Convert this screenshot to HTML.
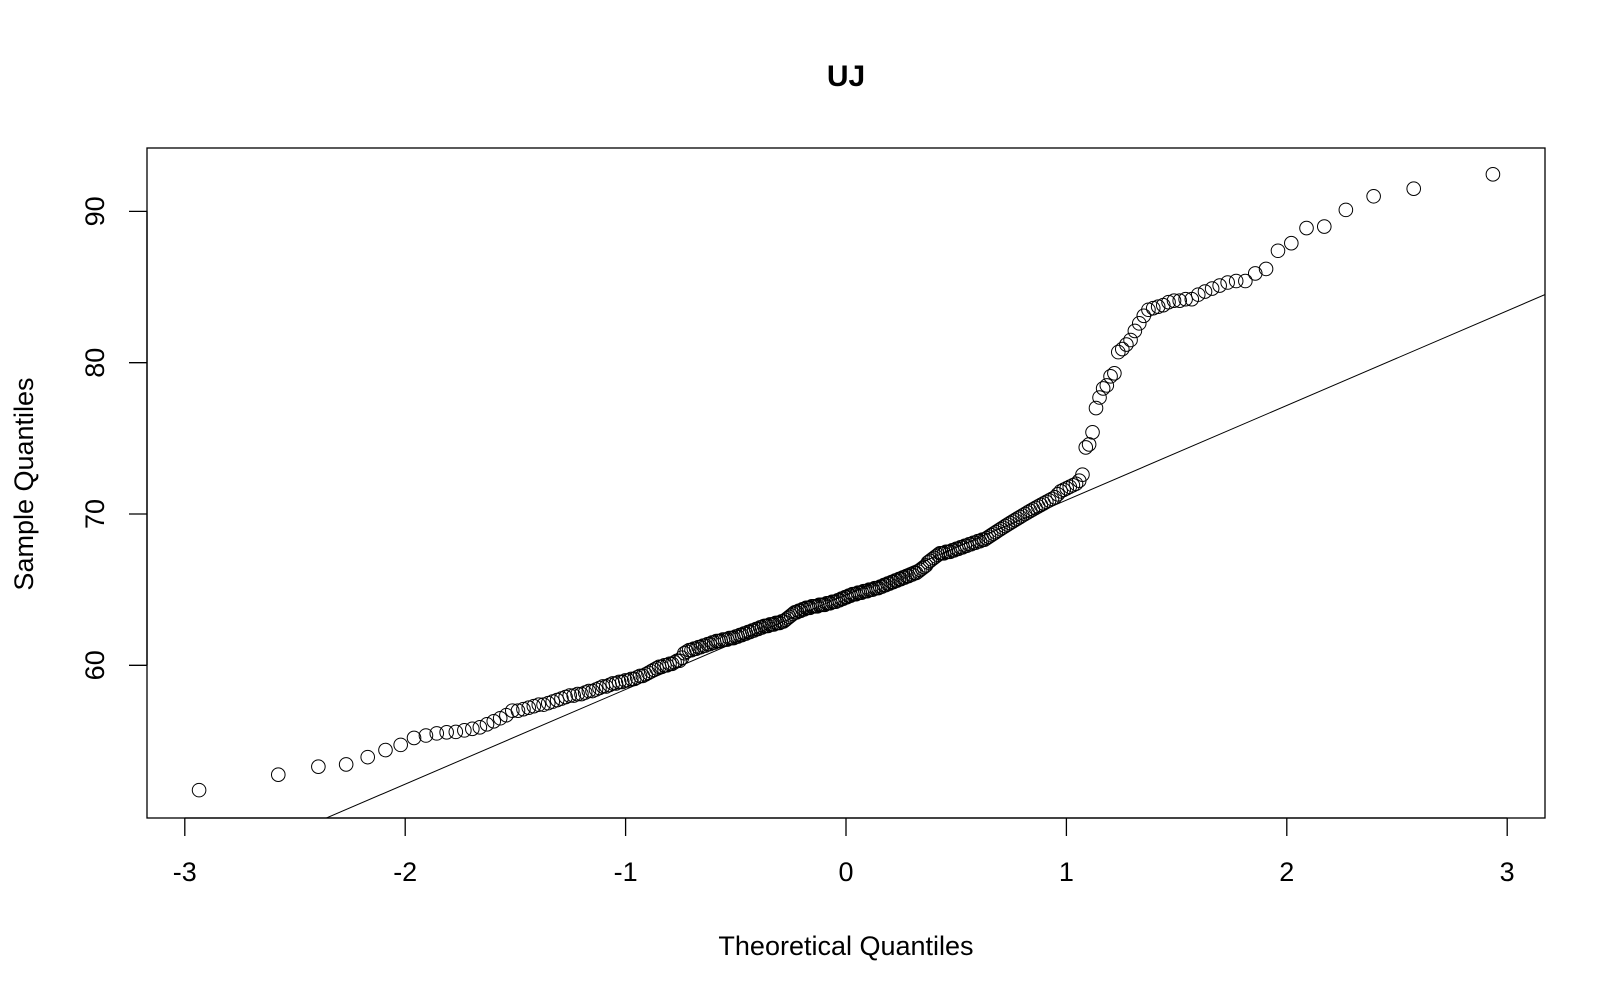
<!DOCTYPE html>
<html><head><meta charset="utf-8"><style>
html,body{margin:0;padding:0;background:#fff;}
svg{display:block;font-family:"Liberation Sans",Arial,sans-serif;}
</style></head><body>
<svg id="chart" width="1620" height="1001" viewBox="0 0 1620 1001" xmlns="http://www.w3.org/2000/svg">
<rect width="1620" height="1001" fill="#fff"/>
<text x="846" y="86" font-size="30" font-weight="bold" text-anchor="middle">UJ</text>
<rect x="147" y="148" width="1398" height="670" fill="none" stroke="#000" stroke-width="1.3"/>
<g id="xaxis"></g>
<g id="yaxis"></g>
<text x="846" y="955" font-size="27" text-anchor="middle">Theoretical Quantiles</text>
<text transform="translate(33,484) rotate(-90)" font-size="27" text-anchor="middle">Sample Quantiles</text>
<g id="marks"></g>
</svg>
<script>
const xTicks = [-3,-2,-1,0,1,2,3];
const yTicks = [60,70,80,90];
const lineParams = [64.66, 6.257]; // intercept, slope
const sample = [
51.75,52.77,53.3,53.45,53.93,54.4,54.74,55.2,55.36,55.5,55.57,55.6,
55.7,55.8,55.9,56.1,56.3,56.5,56.7,57.0,
57.0,57.1,57.2,57.3,57.4,57.4,57.5,57.6,57.7,57.8,57.9,58.0,
58.0,58.1,58.1,58.2,58.3,58.3,58.4,58.5,58.6,58.6,58.7,58.8,58.8,58.9,58.9,59.0,
59.0,59.1,59.1,59.2,59.3,59.3,59.4,59.5,59.6,59.7,59.8,59.9,59.9,60.0,60.0,60.1,60.1,60.2,60.3,60.3,
60.5,60.8,60.9,61.0,61.0,61.1,61.1,61.2,61.2,61.3,61.3,61.4,61.4,61.5,61.5,61.6,61.6,61.6,61.7,61.7,61.7,61.8,61.8,61.8,61.9,
61.9,62.0,62.0,62.1,62.1,62.2,62.2,62.3,62.3,62.4,62.4,62.5,62.5,62.6,62.6,62.6,62.7,62.7,62.7,62.8,62.8,62.8,62.9,62.9,63.0,63.1,63.2,
63.3,63.4,63.5,63.5,63.6,63.6,63.7,63.7,63.8,63.8,63.8,63.9,63.9,63.9,63.9,64.0,64.0,64.0,64.0,64.1,64.1,64.1,64.2,64.2,64.2,64.3,64.3,64.4,64.4,64.5,
64.5,64.6,64.6,64.7,64.7,64.7,64.8,64.8,64.8,64.9,64.9,64.9,65.0,65.0,65.0,65.1,65.1,65.1,65.2,65.2,65.3,65.3,65.4,65.4,65.5,65.5,65.6,65.6,65.7,65.7,
65.8,65.8,65.9,65.9,66.0,66.0,66.1,66.1,66.2,66.3,66.4,66.5,66.6,66.8,66.9,67.0,67.1,
67.2,67.3,67.4,67.4,67.4,67.5,67.5,67.5,67.6,67.6,67.7,
67.7,67.8,67.8,67.9,67.9,68.0,68.0,68.1,68.1,68.2,68.2,68.3,68.3,68.4,68.5,68.6,68.7,68.8,68.9,69.0,69.1,69.2,69.3,69.4,
69.5,69.6,69.7,69.8,69.9,70.0,70.1,70.2,70.3,70.4,70.5,70.6,70.7,
70.8,70.9,71.0,71.1,71.3,71.5,71.6,71.7,71.8,71.9,72.0,72.2,72.6,
74.4,74.6,75.4,77.0,77.7,78.3,78.5,79.1,79.3,80.7,80.9,81.2,81.5,82.1,82.6,83.1,83.5,83.6,83.7,83.8,84.0,84.1,84.1,84.2,84.2,84.5,84.7,84.9,85.1,85.3,85.4,85.4,85.9,
86.2,87.4,87.9,88.9,89.0,90.1,91.0,91.5,92.45
];

const NS='http://www.w3.org/2000/svg';
function X(v){return 846 + v*220.4;}
function Y(v){return 211.4 - (v-90)*15.13;}
function qnorm(p){
  const a=[-39.69683028665376,220.9460984245205,-275.9285104469687,138.3577518672690,-30.66479806614716,2.506628277459239];
  const b=[-54.47609879822406,161.5858368580409,-155.6989798598866,66.80131188771972,-13.28068155288572];
  const c=[-0.007784894002430293,-0.3223964580411365,-2.400758277161838,-2.549732539343734,4.374664141464968,2.938163982698783];
  const d=[0.007784695709041462,0.3224671290700398,2.445134137142996,3.754408661907416];
  const pl=0.02425;let q,r;
  if(p<pl){q=Math.sqrt(-2*Math.log(p));return (((((c[0]*q+c[1])*q+c[2])*q+c[3])*q+c[4])*q+c[5])/((((d[0]*q+d[1])*q+d[2])*q+d[3])*q+1);}
  if(p>1-pl){q=Math.sqrt(-2*Math.log(1-p));return -(((((c[0]*q+c[1])*q+c[2])*q+c[3])*q+c[4])*q+c[5])/((((d[0]*q+d[1])*q+d[2])*q+d[3])*q+1);}
  q=p-0.5;r=q*q;return (((((a[0]*r+a[1])*r+a[2])*r+a[3])*r+a[4])*r+a[5])*q/(((((b[0]*r+b[1])*r+b[2])*r+b[3])*r+b[4])*r+1);
}
function mk(tag,attrs,parent){const e=document.createElementNS(NS,tag);for(const k in attrs)e.setAttribute(k,attrs[k]);parent.appendChild(e);return e;}

const BOTTOM=818;
const xa=document.getElementById('xaxis');
mk('line',{x1:X(xTicks[0]),x2:X(xTicks[xTicks.length-1]),y1:BOTTOM,y2:BOTTOM,stroke:'#000','stroke-width':1.3},xa);
xTicks.forEach(t=>{
  const l=mk('line',{x1:X(t),x2:X(t),y1:BOTTOM,y2:BOTTOM+18,stroke:'#000','stroke-width':1.3},xa);
  
  
  const tx=mk('text',{x:X(t),y:881,'font-size':27,'text-anchor':'middle'},xa);
  tx.textContent=String(t);
  
  
});
const ya=document.getElementById('yaxis');
mk('line',{x1:147,x2:147,y1:Y(yTicks[0]),y2:Y(yTicks[yTicks.length-1]),stroke:'#000','stroke-width':1.3},ya);
yTicks.forEach(t=>{
  const l=mk('line',{x1:129,x2:147,y1:Y(t),y2:Y(t),stroke:'#000','stroke-width':1.3},ya);
  
  
  const tx=mk('text',{transform:`translate(104,${Y(t)}) rotate(-90)`,'font-size':27,'text-anchor':'middle'},ya);
  tx.textContent=t;
  
  
});

const g=document.getElementById('marks');
const cp=mk('clipPath',{id:'clip'},g);
mk('rect',{x:147,y:148,width:1398,height:670},cp);
const x0=-3.2,x1=3.2;
const ln=mk('line',{x1:X(x0),y1:Y(lineParams[0]+lineParams[1]*x0),x2:X(x1),y2:Y(lineParams[0]+lineParams[1]*x1),stroke:'#000','stroke-width':1,'clip-path':'url(#clip)'},g);


const n=sample.length;
sample.forEach((v,i)=>{
  const tq=qnorm((i+1-0.5)/n);
  const c=mk('circle',{cx:X(tq),cy:Y(v),r:6.8,fill:'none',stroke:'#000','stroke-width':1},g);
  
  
});
</script>
</body></html>
